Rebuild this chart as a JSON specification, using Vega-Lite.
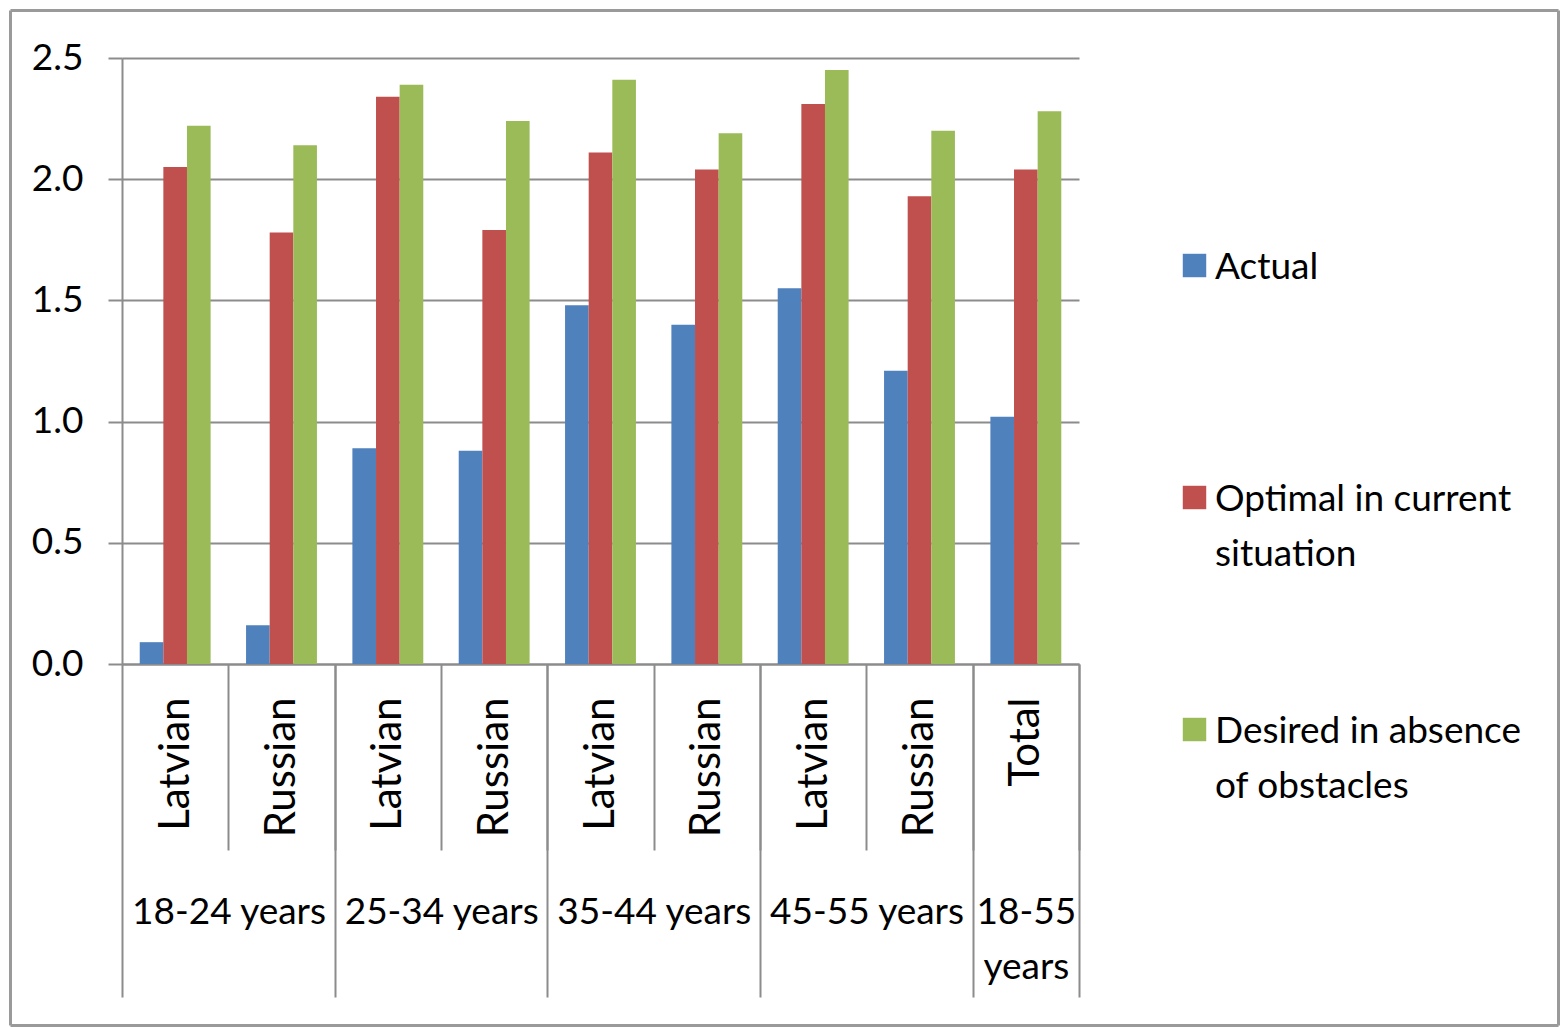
{
  "$schema": "https://vega.github.io/schema/vega-lite/v6.json",
  "width": 957,
  "height": 606,
  "autosize": "none",
  "padding": {"left": 122, "top": 58, "right": 482, "bottom": 363},
  "background": "white",
  "config": {
    "view": {"stroke": null},
    "font": "Lato",
    "axis": {"labelFont": "Lato", "labelColor": "black"},
    "legend": {"labelFont": "Lato", "labelColor": "black"}
  },
  "data": {
    "values": [
      {"cat": "18-24 years|Latvian", "series": "Actual", "value": 0.09},
      {"cat": "18-24 years|Latvian", "series": "Optimal in current situation", "value": 2.05},
      {"cat": "18-24 years|Latvian", "series": "Desired in absence of obstacles", "value": 2.22},
      {"cat": "18-24 years|Russian", "series": "Actual", "value": 0.16},
      {"cat": "18-24 years|Russian", "series": "Optimal in current situation", "value": 1.78},
      {"cat": "18-24 years|Russian", "series": "Desired in absence of obstacles", "value": 2.14},
      {"cat": "25-34 years|Latvian", "series": "Actual", "value": 0.89},
      {"cat": "25-34 years|Latvian", "series": "Optimal in current situation", "value": 2.34},
      {"cat": "25-34 years|Latvian", "series": "Desired in absence of obstacles", "value": 2.39},
      {"cat": "25-34 years|Russian", "series": "Actual", "value": 0.88},
      {"cat": "25-34 years|Russian", "series": "Optimal in current situation", "value": 1.79},
      {"cat": "25-34 years|Russian", "series": "Desired in absence of obstacles", "value": 2.24},
      {"cat": "35-44 years|Latvian", "series": "Actual", "value": 1.48},
      {"cat": "35-44 years|Latvian", "series": "Optimal in current situation", "value": 2.11},
      {"cat": "35-44 years|Latvian", "series": "Desired in absence of obstacles", "value": 2.41},
      {"cat": "35-44 years|Russian", "series": "Actual", "value": 1.40},
      {"cat": "35-44 years|Russian", "series": "Optimal in current situation", "value": 2.04},
      {"cat": "35-44 years|Russian", "series": "Desired in absence of obstacles", "value": 2.19},
      {"cat": "45-55 years|Latvian", "series": "Actual", "value": 1.55},
      {"cat": "45-55 years|Latvian", "series": "Optimal in current situation", "value": 2.31},
      {"cat": "45-55 years|Latvian", "series": "Desired in absence of obstacles", "value": 2.45},
      {"cat": "45-55 years|Russian", "series": "Actual", "value": 1.21},
      {"cat": "45-55 years|Russian", "series": "Optimal in current situation", "value": 1.93},
      {"cat": "45-55 years|Russian", "series": "Desired in absence of obstacles", "value": 2.20},
      {"cat": "18-55 years|Total", "series": "Actual", "value": 1.02},
      {"cat": "18-55 years|Total", "series": "Optimal in current situation", "value": 2.04},
      {"cat": "18-55 years|Total", "series": "Desired in absence of obstacles", "value": 2.28}
    ]
  },
  "layer": [
    {
      "mark": {"type": "point", "opacity": 0},
      "encoding": {
        "x": {
          "field": "value", "type": "quantitative",
          "scale": {"domain": [0, 2.5], "range": [-112, 1436], "nice": false, "zero": false},
          "axis": {"orient": "top", "offset": 48, "title": null, "ticks": false, "labels": false, "grid": false, "domainColor": "#9a9a9a", "domainWidth": 3}
        },
        "y": {
          "field": "value", "type": "quantitative",
          "scale": {"domain": [0, 2.5], "range": [967, -48], "nice": false, "zero": false},
          "axis": {"orient": "left", "offset": 112, "title": null, "ticks": false, "labels": false, "grid": false, "domainColor": "#9a9a9a", "domainWidth": 3}
        }
      }
    },
    {
      "mark": {"type": "point", "opacity": 0},
      "encoding": {
        "x": {
          "field": "value", "type": "quantitative",
          "scale": {"domain": [0, 2.5], "range": [-112, 1436], "nice": false, "zero": false},
          "axis": {"orient": "bottom", "offset": 361, "title": null, "ticks": false, "labels": false, "grid": false, "domainColor": "#9a9a9a", "domainWidth": 3}
        },
        "y": {
          "field": "value", "type": "quantitative",
          "scale": {"domain": [0, 2.5], "range": [967, -48], "nice": false, "zero": false},
          "axis": {"orient": "right", "offset": 479, "title": null, "ticks": false, "labels": false, "grid": false, "domainColor": "#9a9a9a", "domainWidth": 3}
        }
      }
    },
    {
      "mark": {"type": "bar"},
      "encoding": {
        "x": {
          "field": "cat", "type": "nominal", "sort": null,
          "scale": {"type": "band", "paddingInner": 0, "paddingOuter": 0},
          "axis": {
            "title": null, "orient": "bottom", "tickBand": "extent",
            "tickSize": {"condition": {"test": "datum.index < 0", "value": 333}, "value": 186},
            "tickColor": "#8c8c8c", "tickWidth": 2,
            "domainColor": "#8c8c8c", "domainWidth": 2,
            "labelAngle": 270, "labelPadding": -153,
            "labelFontSize": 42, "labelLimit": 0,
            "labelExpr": "datum.index < 0 ? '' : split(datum.label, '|')[1]",
            "labelOverlap": false, "labelBound": false, "grid": false
          }
        },
        "xOffset": {
          "field": "series", "type": "nominal",
          "sort": ["Actual", "Optimal in current situation", "Desired in absence of obstacles"],
          "scale": {"paddingInner": 0, "paddingOuter": 0.75}
        },
        "y": {
          "field": "value", "type": "quantitative",
          "scale": {"domain": [0, 2.5], "nice": false},
          "axis": {
            "title": null, "values": [0, 0.5, 1, 1.5, 2, 2.5], "format": ".1f",
            "tickSize": 14, "tickColor": "#8c8c8c", "tickWidth": 2,
            "domainColor": "#8c8c8c", "domainWidth": 2,
            "grid": true, "gridColor": "#8c8c8c", "gridWidth": 2,
            "labelPadding": 25, "labelFontSize": 37
          }
        },
        "color": {
          "field": "series", "type": "nominal",
          "sort": ["Actual", "Optimal in current situation", "Desired in absence of obstacles"],
          "scale": {"range": ["#4F81BD", "#C0504D", "#9BBB59"]},
          "legend": {
            "title": null, "orient": "none", "legendX": 1054, "legendY": 189,
            "padding": 0, "symbolType": "square", "symbolSize": 550,
            "symbolStrokeWidth": 0, "symbolOpacity": 1,
            "labelFontSize": 37, "labelOffset": 2, "labelLimit": 400,
            "rowPadding": 138, "labelBaseline": "alphabetic",
            "labelExpr": "datum.label == 'Actual' ? ['Actual', ''] : datum.label == 'Optimal in current situation' ? ['Optimal in current', 'situation'] : ['Desired in absence', 'of obstacles']",
            "encode": {"labels": {"update": {"lineHeight": {"value": 55}, "dy": {"value": 13}}}}
          }
        }
      }
    },
    {
      "mark": {"type": "bar", "opacity": 0},
      "encoding": {
        "x": {
          "field": "cat", "type": "nominal", "sort": null,
          "scale": {"type": "band", "paddingInner": 0, "paddingOuter": 0},
          "axis": {
            "title": null, "orient": "bottom",
            "values": ["18-24 years|Russian", "25-34 years|Russian", "35-44 years|Russian", "45-55 years|Russian", "18-55 years|Total"],
            "tickBand": "extent", "tickSize": 333, "tickColor": "#8c8c8c", "tickWidth": 2,
            "tickOpacity": {"condition": {"test": "datum.index < 0", "value": 0}, "value": 1},
            "domain": false, "grid": false,
            "labelAngle": 0, "labelAlign": "center", "labelBaseline": "top",
            "labelPadding": -103, "labelFontSize": 37, "labelLineHeight": 55, "labelLimit": 0,
            "labelOverlap": false, "labelBound": false,
            "labelOffset": {"condition": {"test": "datum.value == '18-55 years|Total'", "value": 0}, "value": -53},
            "labelExpr": "datum.index < 0 ? '' : datum.label == '18-55 years|Total' ? ['18-55', 'years'] : split(datum.label, '|')[0]"
          }
        },
        "y": {"field": "value", "type": "quantitative", "scale": {"domain": [0, 2.5], "nice": false}, "axis": null}
      }
    }
  ],
  "resolve": {"scale": {"x": "independent", "y": "independent"}}
}
